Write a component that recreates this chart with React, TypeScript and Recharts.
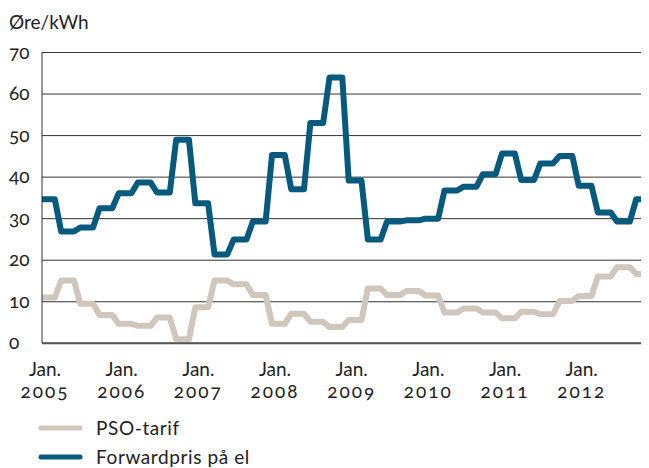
import React from 'react';
import { LineChart, Line, XAxis, YAxis, CartesianGrid } from 'recharts';

const years = ['2005', '2006', '2007', '2008', '2009', '2010', '2011', '2012'];
const monthNames = ['Jan.', 'Feb.', 'Mar.', 'Apr.', 'Maj', 'Jun.', 'Jul.', 'Aug.', 'Sep.', 'Okt.', 'Nov.', 'Dec.'];
const yTicks = [0, 10, 20, 30, 40, 50, 60, 70];

// PSO-tarif, øre/kWh, monthly
const psoTarif = [
  11.0, 11.0, 11.0, 15.1, 15.1, 15.1, 9.5, 9.5, 9.5, 6.8, 6.8, 6.8,
  4.7, 4.7, 4.7, 4.2, 4.2, 4.2, 6.2, 6.2, 6.2, 1.0, 1.0, 1.0,
  8.7, 8.7, 8.7, 15.1, 15.1, 15.1, 14.2, 14.2, 14.2, 11.6, 11.6, 11.6,
  4.7, 4.7, 4.7, 7.1, 7.1, 7.1, 5.2, 5.2, 5.2, 3.9, 3.9, 3.9,
  5.6, 5.6, 5.6, 13.2, 13.2, 13.2, 11.6, 11.6, 11.6, 12.6, 12.6, 12.6,
  11.5, 11.5, 11.5, 7.4, 7.4, 7.4, 8.4, 8.4, 8.4, 7.4, 7.4, 7.4,
  6.0, 6.0, 6.0, 7.6, 7.6, 7.6, 7.0, 7.0, 7.0, 10.2, 10.2, 10.2,
  11.4, 11.4, 11.4, 16.1, 16.1, 16.1, 18.3, 18.3, 18.3, 16.7, 16.7, 16.7,
];

// Forwardpris på el, øre/kWh, monthly
const forwardpris = [
  34.7, 34.7, 34.7, 26.9, 26.9, 26.9, 27.9, 27.9, 27.9, 32.5, 32.5, 32.5,
  36.1, 36.1, 36.1, 38.7, 38.7, 38.7, 36.3, 36.3, 36.3, 49.0, 49.0, 49.0,
  33.7, 33.7, 33.7, 21.4, 21.4, 21.4, 25.0, 25.0, 25.0, 29.3, 29.3, 29.3,
  45.3, 45.3, 45.3, 37.1, 37.1, 37.1, 53.0, 53.0, 53.0, 64.0, 64.0, 64.0,
  39.2, 39.2, 39.2, 25.0, 25.0, 25.0, 29.3, 29.3, 29.3, 29.6, 29.6, 29.6,
  30.0, 30.0, 30.0, 36.8, 36.8, 36.8, 37.7, 37.7, 37.7, 40.7, 40.7, 40.7,
  45.7, 45.7, 45.7, 39.3, 39.3, 39.3, 43.3, 43.3, 43.3, 45.1, 45.1, 45.1,
  37.9, 37.9, 37.9, 31.5, 31.5, 31.5, 29.3, 29.3, 29.3, 34.7, 34.7, 34.7,
];

const months: string[] = [];
years.forEach((y) => monthNames.forEach((m) => months.push(`${m} ${y}`)));

const data = months.map((m, i) => ({ i, month: m, pso: psoTarif[i], fwd: forwardpris[i] }));
const xTicks = years.map((_, k) => k * 12);

const FONT = 'Lato, "Open Sans", sans-serif';
const TEXT = '#222';
const BLUE = '#065a7d';
const PALE = '#d1c6bc';

const YTick = (props: any) => {
  const { y, payload } = props;
  return (
    <text x={1} y={y} dy={6} textAnchor="start" fontSize={19} fill={TEXT}
      style={{ fontFamily: FONT, fontVariantNumeric: 'oldstyle-nums' }}>
      {payload.value}
    </text>
  );
};

const XTick = (props: any) => {
  const { x, y, payload } = props;
  const k = Math.round(payload.value / 12);
  return (
    <g>
      <text x={x + 3} y={y + 25} textAnchor="middle" fontSize={19} fill={TEXT}
        style={{ fontFamily: FONT, fontVariantNumeric: 'oldstyle-nums' }}>
        <tspan x={x + 3}>Jan.</tspan>
        <tspan x={x + 3} dy={22} letterSpacing={2}>{years[k]}</tspan>
      </text>
    </g>
  );
};

export default function App() {
  return (
    <div style={{ position: 'relative', width: 641, height: 460, fontFamily: FONT }}>
      <div style={{ position: 'absolute', left: 1, top: 2, fontSize: 19, color: TEXT, fontFamily: FONT }}>
        Øre/kWh
      </div>
      <div style={{ position: 'absolute', left: 0, top: 0 }}>
        <LineChart width={641} height={400} data={data} margin={{ top: 44.5, right: 0, bottom: 4.7, left: 0 }}>
          <CartesianGrid horizontal vertical={false} stroke="#333" strokeWidth={1} />
          <XAxis
            dataKey="i"
            type="number"
            domain={[0, 95]}
            ticks={xTicks}
            tick={<XTick />}
            tickLine={false}
            axisLine={{ stroke: '#555', strokeWidth: 2 }}
            height={60}
            interval={0}
          />
          <YAxis
            domain={[0, 70]}
            ticks={yTicks}
            tick={<YTick />}
            tickLine={false}
            axisLine={{ stroke: '#333', strokeWidth: 1 }}
            width={34}
            interval={0}
          />
          <Line type="linear" dataKey="pso" stroke={PALE} strokeWidth={6} dot={false}
            strokeLinejoin="round" isAnimationActive={false} />
          <Line type="linear" dataKey="fwd" stroke={BLUE} strokeWidth={6} dot={false}
            strokeLinejoin="round" isAnimationActive={false} />
        </LineChart>
      </div>
      <svg style={{ position: 'absolute', left: 0, top: 400 }} width={641} height={60}>
        <line x1={33} y1={20} x2={72} y2={20} stroke={PALE} strokeWidth={5} strokeLinecap="round" />
        <text x={88} y={27} fontSize={19} fill={TEXT} letterSpacing={0.6} style={{ fontFamily: FONT }}>PSO-tarif</text>
        <line x1={33} y1={49} x2={72} y2={49} stroke={BLUE} strokeWidth={5} strokeLinecap="round" />
        <text x={88} y={56} fontSize={19} fill={TEXT} letterSpacing={0.6} style={{ fontFamily: FONT }}>Forwardpris på el</text>
      </svg>
    </div>
  );
}
